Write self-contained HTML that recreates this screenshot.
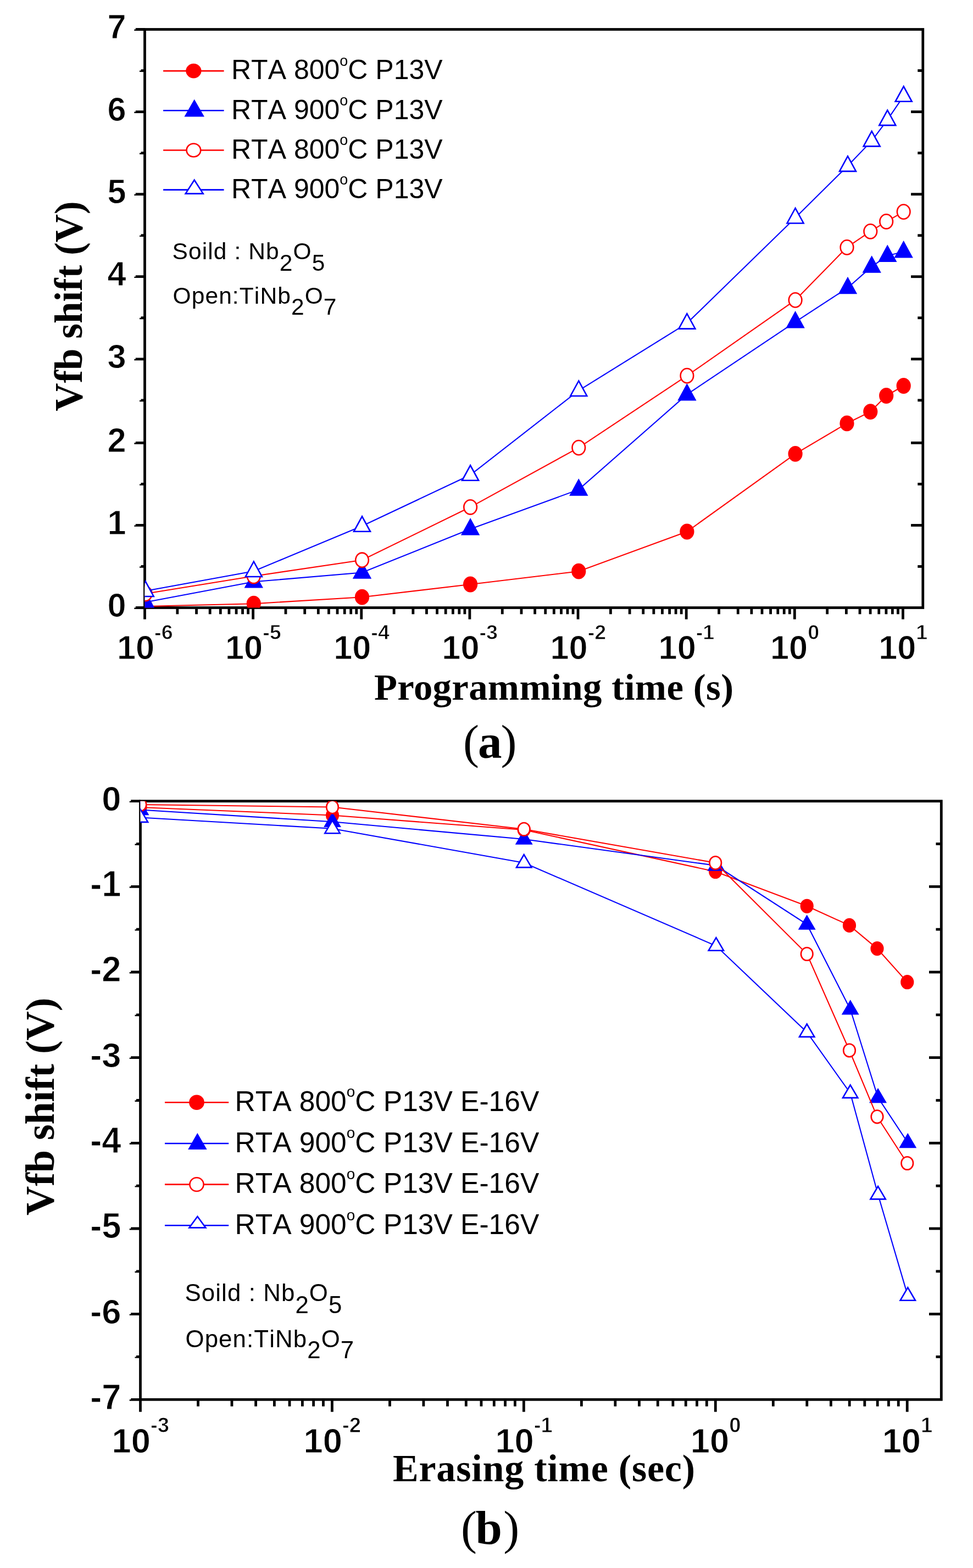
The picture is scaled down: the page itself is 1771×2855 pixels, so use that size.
<!DOCTYPE html>
<html lang="en">
<head>
<meta charset="utf-8">
<title>Vfb shift vs programming / erasing time</title>
<style>
html,body{margin:0;padding:0;background:#fff;}
body{width:1771px;height:2855px;overflow:hidden;}
svg{display:block;}
text{fill:#000;white-space:pre;}
</style>
</head>
<body>
<svg xmlns="http://www.w3.org/2000/svg" width="1771" height="2855" viewBox="0 0 1771 2855">
<rect width="1771" height="2855" fill="#fff"/>
<g stroke="#000" stroke-width="4.8" fill="none" stroke-linecap="butt">
<rect x="263.5" y="53.5" width="1416.3" height="1053"/>
<path d="M246.8 51.1H263.5V55.9H244.3V53.5H246.8Z" fill="#000" stroke="none"/>
<path d="M256.5 126.14H263.5V130.94H254V128.54H256.5Z" fill="#000" stroke="none"/>
<line x1="1670.3" y1="128.54" x2="1679.8" y2="128.54"/>
<path d="M246.8 201.17H263.5V205.97H244.3V203.57H246.8Z" fill="#000" stroke="none"/>
<line x1="1658.1" y1="203.57" x2="1679.8" y2="203.57"/>
<path d="M256.5 276.21H263.5V281.01H254V278.61H256.5Z" fill="#000" stroke="none"/>
<line x1="1670.3" y1="278.61" x2="1679.8" y2="278.61"/>
<path d="M246.8 351.24H263.5V356.04H244.3V353.64H246.8Z" fill="#000" stroke="none"/>
<line x1="1658.1" y1="353.64" x2="1679.8" y2="353.64"/>
<path d="M256.5 426.28H263.5V431.08H254V428.68H256.5Z" fill="#000" stroke="none"/>
<line x1="1670.3" y1="428.68" x2="1679.8" y2="428.68"/>
<path d="M246.8 501.31H263.5V506.11H244.3V503.71H246.8Z" fill="#000" stroke="none"/>
<line x1="1658.1" y1="503.71" x2="1679.8" y2="503.71"/>
<path d="M256.5 576.35H263.5V581.15H254V578.75H256.5Z" fill="#000" stroke="none"/>
<line x1="1670.3" y1="578.75" x2="1679.8" y2="578.75"/>
<path d="M246.8 651.39H263.5V656.19H244.3V653.79H246.8Z" fill="#000" stroke="none"/>
<line x1="1658.1" y1="653.79" x2="1679.8" y2="653.79"/>
<path d="M256.5 726.42H263.5V731.22H254V728.82H256.5Z" fill="#000" stroke="none"/>
<line x1="1670.3" y1="728.82" x2="1679.8" y2="728.82"/>
<path d="M246.8 803.96H263.5V808.76H244.3V806.36H246.8Z" fill="#000" stroke="none"/>
<line x1="1658.1" y1="806.36" x2="1679.8" y2="806.36"/>
<path d="M256.5 878.99H263.5V883.79H254V881.39H256.5Z" fill="#000" stroke="none"/>
<line x1="1670.3" y1="881.39" x2="1679.8" y2="881.39"/>
<path d="M246.8 954.03H263.5V958.83H244.3V956.43H246.8Z" fill="#000" stroke="none"/>
<line x1="1658.1" y1="956.43" x2="1679.8" y2="956.43"/>
<path d="M256.5 1029.06H263.5V1033.86H254V1031.46H256.5Z" fill="#000" stroke="none"/>
<line x1="1670.3" y1="1031.46" x2="1679.8" y2="1031.46"/>
<path d="M246.8 1104.1H263.5V1108.9H244.3V1106.5H246.8Z" fill="#000" stroke="none"/>
<line x1="263.5" y1="1106.5" x2="263.5" y2="1127.6"/>
<line x1="322.85" y1="1106.5" x2="322.85" y2="1118.3"/>
<line x1="357.56" y1="1106.5" x2="357.56" y2="1118.3"/>
<line x1="382.19" y1="1106.5" x2="382.19" y2="1118.3"/>
<line x1="401.29" y1="1106.5" x2="401.29" y2="1118.3"/>
<line x1="416.9" y1="1106.5" x2="416.9" y2="1118.3"/>
<line x1="430.1" y1="1106.5" x2="430.1" y2="1118.3"/>
<line x1="441.54" y1="1106.5" x2="441.54" y2="1118.3"/>
<line x1="451.62" y1="1106.5" x2="451.62" y2="1118.3"/>
<line x1="460.64" y1="1106.5" x2="460.64" y2="1127.6"/>
<line x1="519.99" y1="1106.5" x2="519.99" y2="1118.3"/>
<line x1="554.7" y1="1106.5" x2="554.7" y2="1118.3"/>
<line x1="579.33" y1="1106.5" x2="579.33" y2="1118.3"/>
<line x1="598.43" y1="1106.5" x2="598.43" y2="1118.3"/>
<line x1="614.04" y1="1106.5" x2="614.04" y2="1118.3"/>
<line x1="627.24" y1="1106.5" x2="627.24" y2="1118.3"/>
<line x1="638.68" y1="1106.5" x2="638.68" y2="1118.3"/>
<line x1="648.76" y1="1106.5" x2="648.76" y2="1118.3"/>
<line x1="657.78" y1="1106.5" x2="657.78" y2="1127.6"/>
<line x1="717.13" y1="1106.5" x2="717.13" y2="1118.3"/>
<line x1="751.84" y1="1106.5" x2="751.84" y2="1118.3"/>
<line x1="776.47" y1="1106.5" x2="776.47" y2="1118.3"/>
<line x1="795.57" y1="1106.5" x2="795.57" y2="1118.3"/>
<line x1="811.18" y1="1106.5" x2="811.18" y2="1118.3"/>
<line x1="824.38" y1="1106.5" x2="824.38" y2="1118.3"/>
<line x1="835.82" y1="1106.5" x2="835.82" y2="1118.3"/>
<line x1="845.9" y1="1106.5" x2="845.9" y2="1118.3"/>
<line x1="854.92" y1="1106.5" x2="854.92" y2="1127.6"/>
<line x1="914.27" y1="1106.5" x2="914.27" y2="1118.3"/>
<line x1="948.98" y1="1106.5" x2="948.98" y2="1118.3"/>
<line x1="973.61" y1="1106.5" x2="973.61" y2="1118.3"/>
<line x1="992.71" y1="1106.5" x2="992.71" y2="1118.3"/>
<line x1="1008.32" y1="1106.5" x2="1008.32" y2="1118.3"/>
<line x1="1021.52" y1="1106.5" x2="1021.52" y2="1118.3"/>
<line x1="1032.96" y1="1106.5" x2="1032.96" y2="1118.3"/>
<line x1="1043.04" y1="1106.5" x2="1043.04" y2="1118.3"/>
<line x1="1052.06" y1="1106.5" x2="1052.06" y2="1127.6"/>
<line x1="1111.41" y1="1106.5" x2="1111.41" y2="1118.3"/>
<line x1="1146.12" y1="1106.5" x2="1146.12" y2="1118.3"/>
<line x1="1170.75" y1="1106.5" x2="1170.75" y2="1118.3"/>
<line x1="1189.85" y1="1106.5" x2="1189.85" y2="1118.3"/>
<line x1="1205.46" y1="1106.5" x2="1205.46" y2="1118.3"/>
<line x1="1218.66" y1="1106.5" x2="1218.66" y2="1118.3"/>
<line x1="1230.1" y1="1106.5" x2="1230.1" y2="1118.3"/>
<line x1="1240.18" y1="1106.5" x2="1240.18" y2="1118.3"/>
<line x1="1249.2" y1="1106.5" x2="1249.2" y2="1127.6"/>
<line x1="1308.55" y1="1106.5" x2="1308.55" y2="1118.3"/>
<line x1="1343.26" y1="1106.5" x2="1343.26" y2="1118.3"/>
<line x1="1367.89" y1="1106.5" x2="1367.89" y2="1118.3"/>
<line x1="1386.99" y1="1106.5" x2="1386.99" y2="1118.3"/>
<line x1="1402.6" y1="1106.5" x2="1402.6" y2="1118.3"/>
<line x1="1415.8" y1="1106.5" x2="1415.8" y2="1118.3"/>
<line x1="1427.24" y1="1106.5" x2="1427.24" y2="1118.3"/>
<line x1="1437.32" y1="1106.5" x2="1437.32" y2="1118.3"/>
<line x1="1446.34" y1="1106.5" x2="1446.34" y2="1127.6"/>
<line x1="1505.69" y1="1106.5" x2="1505.69" y2="1118.3"/>
<line x1="1540.4" y1="1106.5" x2="1540.4" y2="1118.3"/>
<line x1="1565.03" y1="1106.5" x2="1565.03" y2="1118.3"/>
<line x1="1584.13" y1="1106.5" x2="1584.13" y2="1118.3"/>
<line x1="1599.74" y1="1106.5" x2="1599.74" y2="1118.3"/>
<line x1="1612.94" y1="1106.5" x2="1612.94" y2="1118.3"/>
<line x1="1624.38" y1="1106.5" x2="1624.38" y2="1118.3"/>
<line x1="1634.46" y1="1106.5" x2="1634.46" y2="1118.3"/>
<line x1="1643.48" y1="1106.5" x2="1643.48" y2="1127.6"/>
</g>
<clipPath id="clipa"><rect x="263.5" y="53.5" width="1416.3" height="1053"/></clipPath>
<g clip-path="url(#clipa)">
<polyline points="264.7,1104 461.8,1099.2 659,1087.2 856.1,1064 1053.3,1040.2 1250.4,968 1447.6,826.3 1541.5,770.8 1584.3,749.6 1613.2,720.5 1644.7,702.5" fill="none" stroke="#ff0000" stroke-width="2.1"/>
<ellipse cx="264.7" cy="1104" rx="11.8" ry="13.1" fill="#ff0000" stroke="#ff0000" stroke-width="2.6"/>
<ellipse cx="461.8" cy="1099.2" rx="11.8" ry="13.1" fill="#ff0000" stroke="#ff0000" stroke-width="2.6"/>
<ellipse cx="659" cy="1087.2" rx="11.8" ry="13.1" fill="#ff0000" stroke="#ff0000" stroke-width="2.6"/>
<ellipse cx="856.1" cy="1064" rx="11.8" ry="13.1" fill="#ff0000" stroke="#ff0000" stroke-width="2.6"/>
<ellipse cx="1053.3" cy="1040.2" rx="11.8" ry="13.1" fill="#ff0000" stroke="#ff0000" stroke-width="2.6"/>
<ellipse cx="1250.4" cy="968" rx="11.8" ry="13.1" fill="#ff0000" stroke="#ff0000" stroke-width="2.6"/>
<ellipse cx="1447.6" cy="826.3" rx="11.8" ry="13.1" fill="#ff0000" stroke="#ff0000" stroke-width="2.6"/>
<ellipse cx="1541.5" cy="770.8" rx="11.8" ry="13.1" fill="#ff0000" stroke="#ff0000" stroke-width="2.6"/>
<ellipse cx="1584.3" cy="749.6" rx="11.8" ry="13.1" fill="#ff0000" stroke="#ff0000" stroke-width="2.6"/>
<ellipse cx="1613.2" cy="720.5" rx="11.8" ry="13.1" fill="#ff0000" stroke="#ff0000" stroke-width="2.6"/>
<ellipse cx="1644.7" cy="702.5" rx="11.8" ry="13.1" fill="#ff0000" stroke="#ff0000" stroke-width="2.6"/>
<polyline points="264.7,1096.5 461.8,1059.3 659,1042.5 856.1,963.3 1053.3,891.4 1250.4,718.2 1447.6,586.2 1543,524 1586.7,485.4 1615.3,465.6 1644.7,458.2" fill="none" stroke="#0000ff" stroke-width="2.1"/>
<polygon points="264.7,1079 249.7,1106.5 279.7,1106.5" fill="#0000ff" stroke="#0000ff" stroke-width="2.6" stroke-linejoin="miter"/>
<polygon points="461.8,1041.8 446.8,1069.3 476.8,1069.3" fill="#0000ff" stroke="#0000ff" stroke-width="2.6" stroke-linejoin="miter"/>
<polygon points="659,1025 644,1052.5 674,1052.5" fill="#0000ff" stroke="#0000ff" stroke-width="2.6" stroke-linejoin="miter"/>
<polygon points="856.1,945.8 841.1,973.3 871.1,973.3" fill="#0000ff" stroke="#0000ff" stroke-width="2.6" stroke-linejoin="miter"/>
<polygon points="1053.3,873.9 1038.3,901.4 1068.3,901.4" fill="#0000ff" stroke="#0000ff" stroke-width="2.6" stroke-linejoin="miter"/>
<polygon points="1250.4,700.7 1235.4,728.2 1265.4,728.2" fill="#0000ff" stroke="#0000ff" stroke-width="2.6" stroke-linejoin="miter"/>
<polygon points="1447.6,568.7 1432.6,596.2 1462.6,596.2" fill="#0000ff" stroke="#0000ff" stroke-width="2.6" stroke-linejoin="miter"/>
<polygon points="1543,506.5 1528,534 1558,534" fill="#0000ff" stroke="#0000ff" stroke-width="2.6" stroke-linejoin="miter"/>
<polygon points="1586.7,467.9 1571.7,495.4 1601.7,495.4" fill="#0000ff" stroke="#0000ff" stroke-width="2.6" stroke-linejoin="miter"/>
<polygon points="1615.3,448.1 1600.3,475.6 1630.3,475.6" fill="#0000ff" stroke="#0000ff" stroke-width="2.6" stroke-linejoin="miter"/>
<polygon points="1644.7,440.7 1629.7,468.2 1659.7,468.2" fill="#0000ff" stroke="#0000ff" stroke-width="2.6" stroke-linejoin="miter"/>
<polyline points="264.7,1081 461.8,1049 659,1019.7 856.1,923.3 1053.3,815.1 1250.4,684.1 1447.6,546.4 1541.5,450.4 1584.3,421.3 1613.2,403.3 1644.7,385.6" fill="none" stroke="#ff0000" stroke-width="2.1"/>
<ellipse cx="264.7" cy="1081" rx="11.8" ry="13.1" fill="#fff" stroke="#ff0000" stroke-width="2.6"/>
<ellipse cx="461.8" cy="1049" rx="11.8" ry="13.1" fill="#fff" stroke="#ff0000" stroke-width="2.6"/>
<ellipse cx="659" cy="1019.7" rx="11.8" ry="13.1" fill="#fff" stroke="#ff0000" stroke-width="2.6"/>
<ellipse cx="856.1" cy="923.3" rx="11.8" ry="13.1" fill="#fff" stroke="#ff0000" stroke-width="2.6"/>
<ellipse cx="1053.3" cy="815.1" rx="11.8" ry="13.1" fill="#fff" stroke="#ff0000" stroke-width="2.6"/>
<ellipse cx="1250.4" cy="684.1" rx="11.8" ry="13.1" fill="#fff" stroke="#ff0000" stroke-width="2.6"/>
<ellipse cx="1447.6" cy="546.4" rx="11.8" ry="13.1" fill="#fff" stroke="#ff0000" stroke-width="2.6"/>
<ellipse cx="1541.5" cy="450.4" rx="11.8" ry="13.1" fill="#fff" stroke="#ff0000" stroke-width="2.6"/>
<ellipse cx="1584.3" cy="421.3" rx="11.8" ry="13.1" fill="#fff" stroke="#ff0000" stroke-width="2.6"/>
<ellipse cx="1613.2" cy="403.3" rx="11.8" ry="13.1" fill="#fff" stroke="#ff0000" stroke-width="2.6"/>
<ellipse cx="1644.7" cy="385.6" rx="11.8" ry="13.1" fill="#fff" stroke="#ff0000" stroke-width="2.6"/>
<polyline points="264.7,1076 461.8,1040 659,957.8 856.1,864.8 1053.3,711 1250.4,588.6 1447.6,396.5 1543,301.9 1586.7,256.4 1615.3,218.1 1644.7,174.8" fill="none" stroke="#0000ff" stroke-width="2.1"/>
<polygon points="264.7,1058.5 249.7,1086 279.7,1086" fill="#fff" stroke="#0000ff" stroke-width="2.6" stroke-linejoin="miter"/>
<polygon points="461.8,1022.5 446.8,1050 476.8,1050" fill="#fff" stroke="#0000ff" stroke-width="2.6" stroke-linejoin="miter"/>
<polygon points="659,940.3 644,967.8 674,967.8" fill="#fff" stroke="#0000ff" stroke-width="2.6" stroke-linejoin="miter"/>
<polygon points="856.1,847.3 841.1,874.8 871.1,874.8" fill="#fff" stroke="#0000ff" stroke-width="2.6" stroke-linejoin="miter"/>
<polygon points="1053.3,693.5 1038.3,721 1068.3,721" fill="#fff" stroke="#0000ff" stroke-width="2.6" stroke-linejoin="miter"/>
<polygon points="1250.4,571.1 1235.4,598.6 1265.4,598.6" fill="#fff" stroke="#0000ff" stroke-width="2.6" stroke-linejoin="miter"/>
<polygon points="1447.6,379 1432.6,406.5 1462.6,406.5" fill="#fff" stroke="#0000ff" stroke-width="2.6" stroke-linejoin="miter"/>
<polygon points="1543,284.4 1528,311.9 1558,311.9" fill="#fff" stroke="#0000ff" stroke-width="2.6" stroke-linejoin="miter"/>
<polygon points="1586.7,238.9 1571.7,266.4 1601.7,266.4" fill="#fff" stroke="#0000ff" stroke-width="2.6" stroke-linejoin="miter"/>
<polygon points="1615.3,200.6 1600.3,228.1 1630.3,228.1" fill="#fff" stroke="#0000ff" stroke-width="2.6" stroke-linejoin="miter"/>
<polygon points="1644.7,157.3 1629.7,184.8 1659.7,184.8" fill="#fff" stroke="#0000ff" stroke-width="2.6" stroke-linejoin="miter"/>
</g>
<line x1="297.1" y1="129.1" x2="407.6" y2="129.1" stroke="#ff0000" stroke-width="2.6"/>
<ellipse cx="352.4" cy="129.1" rx="12.8" ry="12" fill="#ff0000" stroke="#ff0000" stroke-width="2.6"/>
<line x1="297.1" y1="201.3" x2="407.6" y2="201.3" stroke="#0000ff" stroke-width="2.6"/>
<polygon points="353.7,183.4 337.7,211.1 369.7,211.1" fill="#0000ff" stroke="#0000ff" stroke-width="2.6" stroke-linejoin="miter"/>
<line x1="297.1" y1="273.5" x2="407.6" y2="273.5" stroke="#ff0000" stroke-width="2.6"/>
<ellipse cx="352.4" cy="273.5" rx="12.8" ry="12" fill="#fff" stroke="#ff0000" stroke-width="2.6"/>
<line x1="297.1" y1="345.6" x2="407.6" y2="345.6" stroke="#0000ff" stroke-width="2.6"/>
<polygon points="353.7,327.7 337.7,352.6 369.7,352.6" fill="#fff" stroke="#0000ff" stroke-width="2.6" stroke-linejoin="miter"/>
<g stroke="#000" stroke-width="4.8" fill="none" stroke-linecap="butt">
<rect x="255.5" y="1458.7" width="1457.8" height="1089.6"/>
<path d="M238.2 1456.3H255.5V1461.1H235.7V1458.7H238.2Z" fill="#000" stroke="none"/>
<path d="M248 1534.13H255.5V1538.93H245.5V1536.53H248Z" fill="#000" stroke="none"/>
<line x1="1703.5" y1="1536.53" x2="1713.3" y2="1536.53"/>
<path d="M238.2 1611.96H255.5V1616.76H235.7V1614.36H238.2Z" fill="#000" stroke="none"/>
<line x1="1691" y1="1614.36" x2="1713.3" y2="1614.36"/>
<path d="M248 1689.79H255.5V1694.59H245.5V1692.19H248Z" fill="#000" stroke="none"/>
<line x1="1703.5" y1="1692.19" x2="1713.3" y2="1692.19"/>
<path d="M238.2 1767.61H255.5V1772.41H235.7V1770.01H238.2Z" fill="#000" stroke="none"/>
<line x1="1691" y1="1770.01" x2="1713.3" y2="1770.01"/>
<path d="M248 1845.44H255.5V1850.24H245.5V1847.84H248Z" fill="#000" stroke="none"/>
<line x1="1703.5" y1="1847.84" x2="1713.3" y2="1847.84"/>
<path d="M238.2 1923.27H255.5V1928.07H235.7V1925.67H238.2Z" fill="#000" stroke="none"/>
<line x1="1691" y1="1925.67" x2="1713.3" y2="1925.67"/>
<path d="M248 2001.1H255.5V2005.9H245.5V2003.5H248Z" fill="#000" stroke="none"/>
<line x1="1703.5" y1="2003.5" x2="1713.3" y2="2003.5"/>
<path d="M238.2 2078.93H255.5V2083.73H235.7V2081.33H238.2Z" fill="#000" stroke="none"/>
<line x1="1691" y1="2081.33" x2="1713.3" y2="2081.33"/>
<path d="M248 2156.76H255.5V2161.56H245.5V2159.16H248Z" fill="#000" stroke="none"/>
<line x1="1703.5" y1="2159.16" x2="1713.3" y2="2159.16"/>
<path d="M238.2 2234.59H255.5V2239.39H235.7V2236.99H238.2Z" fill="#000" stroke="none"/>
<line x1="1691" y1="2236.99" x2="1713.3" y2="2236.99"/>
<path d="M248 2312.41H255.5V2317.21H245.5V2314.81H248Z" fill="#000" stroke="none"/>
<line x1="1703.5" y1="2314.81" x2="1713.3" y2="2314.81"/>
<path d="M238.2 2390.24H255.5V2395.04H235.7V2392.64H238.2Z" fill="#000" stroke="none"/>
<line x1="1691" y1="2392.64" x2="1713.3" y2="2392.64"/>
<path d="M248 2468.07H255.5V2472.87H245.5V2470.47H248Z" fill="#000" stroke="none"/>
<line x1="1703.5" y1="2470.47" x2="1713.3" y2="2470.47"/>
<path d="M238.2 2545.9H255.5V2550.7H235.7V2548.3H238.2Z" fill="#000" stroke="none"/>
<line x1="255.5" y1="2548.3" x2="255.5" y2="2570.7"/>
<line x1="360.54" y1="2548.3" x2="360.54" y2="2560.7"/>
<line x1="421.98" y1="2548.3" x2="421.98" y2="2560.7"/>
<line x1="465.58" y1="2548.3" x2="465.58" y2="2560.7"/>
<line x1="499.39" y1="2548.3" x2="499.39" y2="2560.7"/>
<line x1="527.02" y1="2548.3" x2="527.02" y2="2560.7"/>
<line x1="550.38" y1="2548.3" x2="550.38" y2="2560.7"/>
<line x1="570.62" y1="2548.3" x2="570.62" y2="2560.7"/>
<line x1="588.46" y1="2548.3" x2="588.46" y2="2560.7"/>
<line x1="604.43" y1="2548.3" x2="604.43" y2="2570.7"/>
<line x1="709.47" y1="2548.3" x2="709.47" y2="2560.7"/>
<line x1="770.91" y1="2548.3" x2="770.91" y2="2560.7"/>
<line x1="814.51" y1="2548.3" x2="814.51" y2="2560.7"/>
<line x1="848.32" y1="2548.3" x2="848.32" y2="2560.7"/>
<line x1="875.95" y1="2548.3" x2="875.95" y2="2560.7"/>
<line x1="899.31" y1="2548.3" x2="899.31" y2="2560.7"/>
<line x1="919.55" y1="2548.3" x2="919.55" y2="2560.7"/>
<line x1="937.39" y1="2548.3" x2="937.39" y2="2560.7"/>
<line x1="953.36" y1="2548.3" x2="953.36" y2="2570.7"/>
<line x1="1058.4" y1="2548.3" x2="1058.4" y2="2560.7"/>
<line x1="1119.84" y1="2548.3" x2="1119.84" y2="2560.7"/>
<line x1="1163.44" y1="2548.3" x2="1163.44" y2="2560.7"/>
<line x1="1197.25" y1="2548.3" x2="1197.25" y2="2560.7"/>
<line x1="1224.88" y1="2548.3" x2="1224.88" y2="2560.7"/>
<line x1="1248.24" y1="2548.3" x2="1248.24" y2="2560.7"/>
<line x1="1268.48" y1="2548.3" x2="1268.48" y2="2560.7"/>
<line x1="1286.32" y1="2548.3" x2="1286.32" y2="2560.7"/>
<line x1="1302.29" y1="2548.3" x2="1302.29" y2="2570.7"/>
<line x1="1407.33" y1="2548.3" x2="1407.33" y2="2560.7"/>
<line x1="1468.77" y1="2548.3" x2="1468.77" y2="2560.7"/>
<line x1="1512.37" y1="2548.3" x2="1512.37" y2="2560.7"/>
<line x1="1546.18" y1="2548.3" x2="1546.18" y2="2560.7"/>
<line x1="1573.81" y1="2548.3" x2="1573.81" y2="2560.7"/>
<line x1="1597.17" y1="2548.3" x2="1597.17" y2="2560.7"/>
<line x1="1617.41" y1="2548.3" x2="1617.41" y2="2560.7"/>
<line x1="1635.25" y1="2548.3" x2="1635.25" y2="2560.7"/>
<line x1="1651.22" y1="2548.3" x2="1651.22" y2="2570.7"/>
</g>
<clipPath id="clipb"><rect x="255.5" y="1458.7" width="1457.8" height="1089.6"/></clipPath>
<g clip-path="url(#clipb)">
<polyline points="255.5,1470 605,1484.5 953.7,1511 1302.2,1587 1468.7,1649.8 1546,1684.9 1596.5,1727.1 1651.3,1788.2" fill="none" stroke="#ff0000" stroke-width="2.1"/>
<ellipse cx="255.5" cy="1470" rx="10.8" ry="11.8" fill="#ff0000" stroke="#ff0000" stroke-width="2.6"/>
<ellipse cx="605" cy="1484.5" rx="10.8" ry="11.8" fill="#ff0000" stroke="#ff0000" stroke-width="2.6"/>
<ellipse cx="953.7" cy="1511" rx="10.8" ry="11.8" fill="#ff0000" stroke="#ff0000" stroke-width="2.6"/>
<ellipse cx="1302.2" cy="1587" rx="10.8" ry="11.8" fill="#ff0000" stroke="#ff0000" stroke-width="2.6"/>
<ellipse cx="1468.7" cy="1649.8" rx="10.8" ry="11.8" fill="#ff0000" stroke="#ff0000" stroke-width="2.6"/>
<ellipse cx="1546" cy="1684.9" rx="10.8" ry="11.8" fill="#ff0000" stroke="#ff0000" stroke-width="2.6"/>
<ellipse cx="1596.5" cy="1727.1" rx="10.8" ry="11.8" fill="#ff0000" stroke="#ff0000" stroke-width="2.6"/>
<ellipse cx="1651.3" cy="1788.2" rx="10.8" ry="11.8" fill="#ff0000" stroke="#ff0000" stroke-width="2.6"/>
<polyline points="255.5,1474.5 605,1496.3 953.7,1528 1303.4,1576 1468.7,1683 1547.7,1837.8 1598.1,1998.5 1652.3,2080.5" fill="none" stroke="#0000ff" stroke-width="2.1"/>
<polygon points="255.5,1459.5 241.8,1482.9 269.2,1482.9" fill="#0000ff" stroke="#0000ff" stroke-width="2.6" stroke-linejoin="miter"/>
<polygon points="605,1481.3 591.3,1504.7 618.7,1504.7" fill="#0000ff" stroke="#0000ff" stroke-width="2.6" stroke-linejoin="miter"/>
<polygon points="953.7,1513 940,1536.4 967.4,1536.4" fill="#0000ff" stroke="#0000ff" stroke-width="2.6" stroke-linejoin="miter"/>
<polygon points="1303.4,1561 1289.7,1584.4 1317.1,1584.4" fill="#0000ff" stroke="#0000ff" stroke-width="2.6" stroke-linejoin="miter"/>
<polygon points="1468.7,1668 1455,1691.4 1482.4,1691.4" fill="#0000ff" stroke="#0000ff" stroke-width="2.6" stroke-linejoin="miter"/>
<polygon points="1547.7,1822.8 1534,1846.2 1561.4,1846.2" fill="#0000ff" stroke="#0000ff" stroke-width="2.6" stroke-linejoin="miter"/>
<polygon points="1598.1,1983.5 1584.4,2006.9 1611.8,2006.9" fill="#0000ff" stroke="#0000ff" stroke-width="2.6" stroke-linejoin="miter"/>
<polygon points="1652.3,2065.5 1638.6,2088.9 1666,2088.9" fill="#0000ff" stroke="#0000ff" stroke-width="2.6" stroke-linejoin="miter"/>
<polyline points="255.5,1465 605,1469.5 953.7,1509.8 1302.2,1571 1468.7,1737 1546,1912.5 1596.5,2033.3 1651.3,2118" fill="none" stroke="#ff0000" stroke-width="2.1"/>
<ellipse cx="255.5" cy="1465" rx="10.8" ry="11.8" fill="#fff" stroke="#ff0000" stroke-width="2.6"/>
<ellipse cx="605" cy="1469.5" rx="10.8" ry="11.8" fill="#fff" stroke="#ff0000" stroke-width="2.6"/>
<ellipse cx="953.7" cy="1509.8" rx="10.8" ry="11.8" fill="#fff" stroke="#ff0000" stroke-width="2.6"/>
<ellipse cx="1302.2" cy="1571" rx="10.8" ry="11.8" fill="#fff" stroke="#ff0000" stroke-width="2.6"/>
<ellipse cx="1468.7" cy="1737" rx="10.8" ry="11.8" fill="#fff" stroke="#ff0000" stroke-width="2.6"/>
<ellipse cx="1546" cy="1912.5" rx="10.8" ry="11.8" fill="#fff" stroke="#ff0000" stroke-width="2.6"/>
<ellipse cx="1596.5" cy="2033.3" rx="10.8" ry="11.8" fill="#fff" stroke="#ff0000" stroke-width="2.6"/>
<ellipse cx="1651.3" cy="2118" rx="10.8" ry="11.8" fill="#fff" stroke="#ff0000" stroke-width="2.6"/>
<polyline points="255.5,1488.5 605,1508.8 953.7,1571 1303.4,1722.3 1468.7,1879.5 1547.7,1990.5 1598.1,2175 1652.3,2359.4" fill="none" stroke="#0000ff" stroke-width="2.1"/>
<polygon points="255.5,1473.5 241.8,1496.9 269.2,1496.9" fill="#fff" stroke="#0000ff" stroke-width="2.6" stroke-linejoin="miter"/>
<polygon points="605,1493.8 591.3,1517.2 618.7,1517.2" fill="#fff" stroke="#0000ff" stroke-width="2.6" stroke-linejoin="miter"/>
<polygon points="953.7,1556 940,1579.4 967.4,1579.4" fill="#fff" stroke="#0000ff" stroke-width="2.6" stroke-linejoin="miter"/>
<polygon points="1303.4,1707.3 1289.7,1730.7 1317.1,1730.7" fill="#fff" stroke="#0000ff" stroke-width="2.6" stroke-linejoin="miter"/>
<polygon points="1468.7,1864.5 1455,1887.9 1482.4,1887.9" fill="#fff" stroke="#0000ff" stroke-width="2.6" stroke-linejoin="miter"/>
<polygon points="1547.7,1975.5 1534,1998.9 1561.4,1998.9" fill="#fff" stroke="#0000ff" stroke-width="2.6" stroke-linejoin="miter"/>
<polygon points="1598.1,2160 1584.4,2183.4 1611.8,2183.4" fill="#fff" stroke="#0000ff" stroke-width="2.6" stroke-linejoin="miter"/>
<polygon points="1652.3,2344.4 1638.6,2367.8 1666,2367.8" fill="#fff" stroke="#0000ff" stroke-width="2.6" stroke-linejoin="miter"/>
</g>
<line x1="300" y1="2007.2" x2="416.2" y2="2007.2" stroke="#ff0000" stroke-width="2.6"/>
<ellipse cx="358" cy="2007.2" rx="12.6" ry="12.4" fill="#ff0000" stroke="#ff0000" stroke-width="2.6"/>
<line x1="300" y1="2082" x2="416.2" y2="2082" stroke="#0000ff" stroke-width="2.6"/>
<polygon points="359.4,2065.5 344.4,2091.8 374.4,2091.8" fill="#0000ff" stroke="#0000ff" stroke-width="2.6" stroke-linejoin="miter"/>
<line x1="300" y1="2156.6" x2="416.2" y2="2156.6" stroke="#ff0000" stroke-width="2.6"/>
<ellipse cx="358" cy="2156.6" rx="12.6" ry="12.4" fill="#fff" stroke="#ff0000" stroke-width="2.6"/>
<line x1="300" y1="2231.3" x2="416.2" y2="2231.3" stroke="#0000ff" stroke-width="2.6"/>
<polygon points="359.4,2214.9 344.4,2235.4 374.4,2235.4" fill="#fff" stroke="#0000ff" stroke-width="2.6" stroke-linejoin="miter"/>
<text transform="translate(229.5 70.1) scale(1 1.03)" font-family="'Liberation Sans', Arial, Helvetica, sans-serif" font-size="61.3" font-weight="bold" text-anchor="end" stroke="#fff" stroke-width="1">7</text>
<text transform="translate(229.5 220.17) scale(1 1)" font-family="'Liberation Sans', Arial, Helvetica, sans-serif" font-size="61.3" font-weight="bold" text-anchor="end" stroke="#fff" stroke-width="1">6</text>
<text transform="translate(229.5 370.24) scale(1 1.02)" font-family="'Liberation Sans', Arial, Helvetica, sans-serif" font-size="61.3" font-weight="bold" text-anchor="end" stroke="#fff" stroke-width="1">5</text>
<text transform="translate(229.5 520.31) scale(1 1.04)" font-family="'Liberation Sans', Arial, Helvetica, sans-serif" font-size="61.3" font-weight="bold" text-anchor="end" stroke="#fff" stroke-width="1">4</text>
<text transform="translate(229.5 670.39) scale(1 1)" font-family="'Liberation Sans', Arial, Helvetica, sans-serif" font-size="61.3" font-weight="bold" text-anchor="end" stroke="#fff" stroke-width="1">3</text>
<text transform="translate(229.5 822.96) scale(1 1.02)" font-family="'Liberation Sans', Arial, Helvetica, sans-serif" font-size="61.3" font-weight="bold" text-anchor="end" stroke="#fff" stroke-width="1">2</text>
<text transform="translate(229.5 973.03) scale(1 1.04)" font-family="'Liberation Sans', Arial, Helvetica, sans-serif" font-size="61.3" font-weight="bold" text-anchor="end" stroke="#fff" stroke-width="1">1</text>
<text transform="translate(229.5 1123.1) scale(1 0.99)" font-family="'Liberation Sans', Arial, Helvetica, sans-serif" font-size="61.3" font-weight="bold" text-anchor="end" stroke="#fff" stroke-width="1">0</text>
<text x="263.8" y="1200" text-anchor="middle" font-family="'Liberation Sans', Arial, Helvetica, sans-serif" font-weight="bold" font-size="61.3" stroke="#fff" stroke-width="1">10<tspan font-size="37.8" dy="-36.5" dx="0">-6</tspan></text>
<text x="460.94" y="1200" text-anchor="middle" font-family="'Liberation Sans', Arial, Helvetica, sans-serif" font-weight="bold" font-size="61.3" stroke="#fff" stroke-width="1">10<tspan font-size="37.8" dy="-36.5" dx="0">-5</tspan></text>
<text x="658.08" y="1200" text-anchor="middle" font-family="'Liberation Sans', Arial, Helvetica, sans-serif" font-weight="bold" font-size="61.3" stroke="#fff" stroke-width="1">10<tspan font-size="37.8" dy="-36.5" dx="0">-4</tspan></text>
<text x="855.22" y="1200" text-anchor="middle" font-family="'Liberation Sans', Arial, Helvetica, sans-serif" font-weight="bold" font-size="61.3" stroke="#fff" stroke-width="1">10<tspan font-size="37.8" dy="-36.5" dx="0">-3</tspan></text>
<text x="1052.36" y="1200" text-anchor="middle" font-family="'Liberation Sans', Arial, Helvetica, sans-serif" font-weight="bold" font-size="61.3" stroke="#fff" stroke-width="1">10<tspan font-size="37.8" dy="-36.5" dx="0">-2</tspan></text>
<text x="1249.5" y="1200" text-anchor="middle" font-family="'Liberation Sans', Arial, Helvetica, sans-serif" font-weight="bold" font-size="61.3" stroke="#fff" stroke-width="1">10<tspan font-size="37.8" dy="-36.5" dx="0">-1</tspan></text>
<text x="1446.64" y="1200" text-anchor="middle" font-family="'Liberation Sans', Arial, Helvetica, sans-serif" font-weight="bold" font-size="61.3" stroke="#fff" stroke-width="1">10<tspan font-size="37.8" dy="-36.5" dx="0">0</tspan></text>
<text x="1643.78" y="1200" text-anchor="middle" font-family="'Liberation Sans', Arial, Helvetica, sans-serif" font-weight="bold" font-size="61.3" stroke="#fff" stroke-width="1">10<tspan font-size="37.8" dy="-36.5" dx="0">1</tspan></text>
<text x="421" y="144.3" font-family="'Liberation Sans', Arial, Helvetica, sans-serif" font-size="50" style="font-kerning:none">RTA 800<tspan font-size="27" dy="-24.5">o</tspan><tspan dy="24.5">C P13V</tspan></text>
<text x="421" y="216.5" font-family="'Liberation Sans', Arial, Helvetica, sans-serif" font-size="50" style="font-kerning:none">RTA 900<tspan font-size="27" dy="-24.5">o</tspan><tspan dy="24.5">C P13V</tspan></text>
<text x="421" y="288.7" font-family="'Liberation Sans', Arial, Helvetica, sans-serif" font-size="50" style="font-kerning:none">RTA 800<tspan font-size="27" dy="-24.5">o</tspan><tspan dy="24.5">C P13V</tspan></text>
<text x="421" y="360.8" font-family="'Liberation Sans', Arial, Helvetica, sans-serif" font-size="50" style="font-kerning:none">RTA 900<tspan font-size="27" dy="-24.5">o</tspan><tspan dy="24.5">C P13V</tspan></text>
<text x="313.5" y="471.6" font-family="'Liberation Sans', Arial, Helvetica, sans-serif" font-size="42.5" style="font-kerning:none;letter-spacing:1.1px">Soild : Nb<tspan dy="21.6">2</tspan><tspan dy="-21.6">O<tspan dy="21.6">5</tspan></text>
<text x="314.5" y="552.9" font-family="'Liberation Sans', Arial, Helvetica, sans-serif" font-size="42.5" style="font-kerning:none;letter-spacing:1.1px">Open:TiNb<tspan dy="19.6">2</tspan><tspan dy="-19.6">O<tspan dy="19.6">7</tspan></text>
<text x="681" y="1273.8" font-family="'Liberation Serif', 'Times New Roman', Times, serif" font-weight="bold" font-size="68.7" textLength="654" lengthAdjust="spacing">Programming time (s)</text>
<text transform="translate(148.9 748.8) rotate(-90)" font-family="'Liberation Serif', 'Times New Roman', Times, serif" font-weight="bold" font-size="71" textLength="382.5" lengthAdjust="spacing">Vfb shift (V)</text>
<text x="843" y="1379.8" font-family="'Liberation Serif', 'Times New Roman', Times, serif" font-size="87">(<tspan font-weight="bold" dx="-2">a</tspan><tspan dx="-2">)</tspan></text>
<text transform="translate(220.5 1475.9) scale(1 0.99)" font-family="'Liberation Sans', Arial, Helvetica, sans-serif" font-size="63.3" font-weight="bold" text-anchor="end" stroke="#fff" stroke-width="1">0</text>
<text transform="translate(220.5 1631.56) scale(1 1.04)" font-family="'Liberation Sans', Arial, Helvetica, sans-serif" font-size="63.3" font-weight="bold" text-anchor="end" stroke="#fff" stroke-width="1">-1</text>
<text transform="translate(220.5 1787.21) scale(1 1.02)" font-family="'Liberation Sans', Arial, Helvetica, sans-serif" font-size="63.3" font-weight="bold" text-anchor="end" stroke="#fff" stroke-width="1">-2</text>
<text transform="translate(220.5 1942.87) scale(1 1)" font-family="'Liberation Sans', Arial, Helvetica, sans-serif" font-size="63.3" font-weight="bold" text-anchor="end" stroke="#fff" stroke-width="1">-3</text>
<text transform="translate(220.5 2098.53) scale(1 1.04)" font-family="'Liberation Sans', Arial, Helvetica, sans-serif" font-size="63.3" font-weight="bold" text-anchor="end" stroke="#fff" stroke-width="1">-4</text>
<text transform="translate(220.5 2254.19) scale(1 1.02)" font-family="'Liberation Sans', Arial, Helvetica, sans-serif" font-size="63.3" font-weight="bold" text-anchor="end" stroke="#fff" stroke-width="1">-5</text>
<text transform="translate(220.5 2409.84) scale(1 1)" font-family="'Liberation Sans', Arial, Helvetica, sans-serif" font-size="63.3" font-weight="bold" text-anchor="end" stroke="#fff" stroke-width="1">-6</text>
<text transform="translate(220.5 2565.5) scale(1 1.03)" font-family="'Liberation Sans', Arial, Helvetica, sans-serif" font-size="63.3" font-weight="bold" text-anchor="end" stroke="#fff" stroke-width="1">-7</text>
<text x="255.8" y="2644.8" text-anchor="middle" font-family="'Liberation Sans', Arial, Helvetica, sans-serif" font-weight="bold" font-size="63.3" stroke="#fff" stroke-width="1">10<tspan font-size="38.3" dy="-36.7" dx="0">-3</tspan></text>
<text x="604.73" y="2644.8" text-anchor="middle" font-family="'Liberation Sans', Arial, Helvetica, sans-serif" font-weight="bold" font-size="63.3" stroke="#fff" stroke-width="1">10<tspan font-size="38.3" dy="-36.7" dx="0">-2</tspan></text>
<text x="953.66" y="2644.8" text-anchor="middle" font-family="'Liberation Sans', Arial, Helvetica, sans-serif" font-weight="bold" font-size="63.3" stroke="#fff" stroke-width="1">10<tspan font-size="38.3" dy="-36.7" dx="0">-1</tspan></text>
<text x="1302.59" y="2644.8" text-anchor="middle" font-family="'Liberation Sans', Arial, Helvetica, sans-serif" font-weight="bold" font-size="63.3" stroke="#fff" stroke-width="1">10<tspan font-size="38.3" dy="-36.7" dx="0">0</tspan></text>
<text x="1651.52" y="2644.8" text-anchor="middle" font-family="'Liberation Sans', Arial, Helvetica, sans-serif" font-weight="bold" font-size="63.3" stroke="#fff" stroke-width="1">10<tspan font-size="38.3" dy="-36.7" dx="0">1</tspan></text>
<text x="427.5" y="2022.9" font-family="'Liberation Sans', Arial, Helvetica, sans-serif" font-size="51.5" style="font-kerning:none">RTA 800<tspan font-size="28" dy="-25.5">o</tspan><tspan dy="25.5">C P13V E-16V</tspan></text>
<text x="427.5" y="2097.6" font-family="'Liberation Sans', Arial, Helvetica, sans-serif" font-size="51.5" style="font-kerning:none">RTA 900<tspan font-size="28" dy="-25.5">o</tspan><tspan dy="25.5">C P13V E-16V</tspan></text>
<text x="427.5" y="2172.4" font-family="'Liberation Sans', Arial, Helvetica, sans-serif" font-size="51.5" style="font-kerning:none">RTA 800<tspan font-size="28" dy="-25.5">o</tspan><tspan dy="25.5">C P13V E-16V</tspan></text>
<text x="427.5" y="2247.1" font-family="'Liberation Sans', Arial, Helvetica, sans-serif" font-size="51.5" style="font-kerning:none">RTA 900<tspan font-size="28" dy="-25.5">o</tspan><tspan dy="25.5">C P13V E-16V</tspan></text>
<text x="336.5" y="2368.8" font-family="'Liberation Sans', Arial, Helvetica, sans-serif" font-size="43.8" style="font-kerning:none;letter-spacing:1.1px">Soild : Nb<tspan dy="22.5">2</tspan><tspan dy="-22.5">O<tspan dy="22.5">5</tspan></text>
<text x="337.5" y="2453.4" font-family="'Liberation Sans', Arial, Helvetica, sans-serif" font-size="43.8" style="font-kerning:none;letter-spacing:1.1px">Open:TiNb<tspan dy="20">2</tspan><tspan dy="-20">O<tspan dy="20">7</tspan></text>
<text x="715" y="2696.6" font-family="'Liberation Serif', 'Times New Roman', Times, serif" font-weight="bold" font-size="70" textLength="550" lengthAdjust="spacing">Erasing time (sec)</text>
<text transform="translate(98.3 2213) rotate(-90)" font-family="'Liberation Serif', 'Times New Roman', Times, serif" font-weight="bold" font-size="74" textLength="396.5" lengthAdjust="spacing">Vfb shift (V)</text>
<text x="839" y="2810.6" font-family="'Liberation Serif', 'Times New Roman', Times, serif" font-size="87">(<tspan font-weight="bold" dx="-2.5">b</tspan><tspan dx="2.3">)</tspan></text>
</svg>
</body>
</html>
